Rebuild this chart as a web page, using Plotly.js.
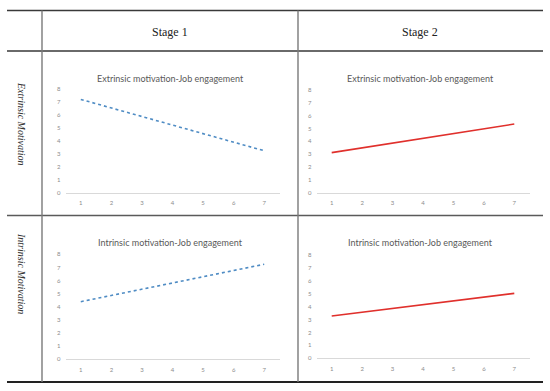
<!DOCTYPE html>
<html>
<head>
<meta charset="utf-8">
<script src="https://cdn.plot.ly/plotly-3.0.1.min.js"></script>
<style>
  html, body { margin: 0; padding: 0; background: #ffffff; }
  #chart { width: 550px; height: 391px; }
</style>
</head>
<body>
<div id="chart"></div>
<script>
// ---- data ----
const xLevels = [1, 7];
const extrinsicStage1 = [7.2, 3.25];
const extrinsicStage2 = [3.12, 5.35];
const intrinsicStage1 = [4.39, 7.24];
const intrinsicStage2 = [3.28, 5.03];
const xTickVals = [1, 2, 3, 4, 5, 6, 7];
const yTickVals = [0, 1, 2, 3, 4, 5, 6, 7, 8];
const stageLabels = ['Stage 1', 'Stage 2'];
const rowLabels = ['Extrinsic Motivation', 'Intrinsic Motivation'];
const chartTitles = ['Extrinsic motivation-Job engagement', 'Extrinsic motivation-Job engagement',
                     'Intrinsic motivation-Job engagement', 'Intrinsic motivation-Job engagement'];

const W = 550, H = 391;
const px = v => v / W;
const py = v => 1 - v / H;

const blue = '#4f8cc4';
const red = '#e0302c';

const traces = [
  {x: xLevels, y: extrinsicStage1, xaxis: 'x', yaxis: 'y', mode: 'lines',
   line: {color: blue, width: 1.6, dash: 'dot'}},
  {x: xLevels, y: extrinsicStage2, xaxis: 'x2', yaxis: 'y2', mode: 'lines',
   line: {color: red, width: 1.6}},
  {x: xLevels, y: intrinsicStage1, xaxis: 'x3', yaxis: 'y3', mode: 'lines',
   line: {color: blue, width: 1.6, dash: 'dot'}},
  {x: xLevels, y: intrinsicStage2, xaxis: 'x4', yaxis: 'y4', mode: 'lines',
   line: {color: red, width: 1.6}}
];

const tickFont = {family: 'Lato, Open Sans, sans-serif', size: 6, color: '#8c8c8c'};
function xAx(domain, anchor) {
  return {domain: domain, anchor: anchor, range: [0.5, 7.5], tickvals: xTickVals,
    showgrid: false, zeroline: false, showline: true, linecolor: '#d9d9d9', linewidth: 1,
    ticks: '', tickfont: tickFont, ticklabelstandoff: 4, fixedrange: true};
}
function yAx(domain, anchor) {
  return {domain: domain, anchor: anchor, range: [0, 8], tickvals: yTickVals,
    showgrid: false, zeroline: false, showline: false,
    ticks: '', tickfont: tickFont, ticklabelstandoff: 4, fixedrange: true};
}

const leftX = [px(65.5), px(279.5)];
const rightX = [px(316.5), px(529.5)];
const topY1 = [py(193), py(89)];
const topY2 = [py(192.7), py(90)];
const botY1 = [py(359.3), py(254.3)];
const botY2 = [py(358.3), py(255)];

function hline(y, x0, x1, color, width) {
  return {type: 'line', xref: 'paper', yref: 'paper', x0: px(x0), x1: px(x1), y0: py(y), y1: py(y),
          line: {color: color, width: width}};
}
function vline(x, y0, y1, color, width) {
  return {type: 'line', xref: 'paper', yref: 'paper', x0: px(x), x1: px(x), y0: py(y0), y1: py(y1),
          line: {color: color, width: width}};
}

const shapes = [
  hline(10.5, 7, 543, '#3a3a3a', 1.6),
  hline(51, 7, 543, '#6a6a6a', 2),
  hline(215.5, 7, 543, '#5a5a5a', 1.6),
  hline(382, 7, 543, '#222222', 1.8),
  vline(42, 10.5, 382, '#7a7a7a', 1.4),
  vline(298, 10.5, 382, '#7a7a7a', 1.4)
];

const titleFont = {family: 'Lato, Open Sans, sans-serif', size: 9, color: '#595959'};
const headFont = {family: 'Liberation Serif, serif', size: 12, color: '#222222'};
const rowFont = {family: 'Liberation Serif, serif', size: 10, color: '#333333', style: 'italic'};

function ann(text, x, y, font, angle) {
  return {text: text, xref: 'paper', yref: 'paper', x: px(x), y: py(y), showarrow: false,
          xanchor: 'center', yanchor: 'middle', font: font, textangle: angle || 0};
}

const annotations = [
  ann(stageLabels[0], 170, 32, headFont),
  ann(stageLabels[1], 420, 32, headFont),
  ann(rowLabels[0], 22, 124, rowFont, 90),
  ann(rowLabels[1], 22, 273, rowFont, 90),
  ann(chartTitles[0], 170, 78, titleFont),
  ann(chartTitles[1], 420, 78, titleFont),
  ann(chartTitles[2], 170, 242, titleFont),
  ann(chartTitles[3], 420, 242, titleFont)
];

const layout = {
  width: W, height: H,
  margin: {l: 0, r: 0, t: 0, b: 0},
  paper_bgcolor: '#ffffff', plot_bgcolor: '#ffffff',
  showlegend: false,
  xaxis: xAx(leftX, 'y'), yaxis: yAx(topY1, 'x'),
  xaxis2: xAx(rightX, 'y2'), yaxis2: yAx(topY2, 'x2'),
  xaxis3: xAx(leftX, 'y3'), yaxis3: yAx(botY1, 'x3'),
  xaxis4: xAx(rightX, 'y4'), yaxis4: yAx(botY2, 'x4'),
  shapes: shapes,
  annotations: annotations
};

Plotly.newPlot('chart', traces, layout, {staticPlot: true, displayModeBar: false});
</script>
</body>
</html>
